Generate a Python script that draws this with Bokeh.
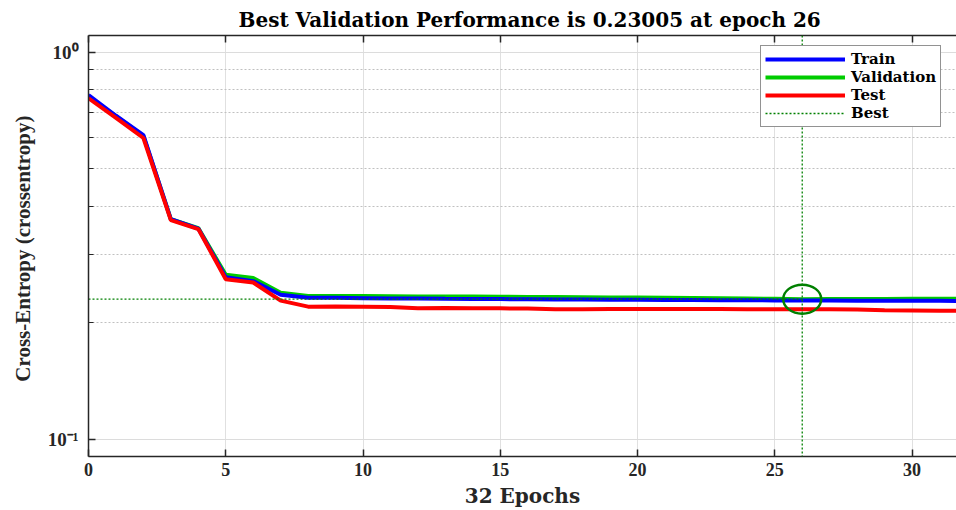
from bokeh.plotting import figure
from bokeh.models import (Range1d, LogAxis, LinearAxis, FixedTicker, Legend, LegendItem,
                          Span, Title, Grid, LogScale)
from bokeh.embed import file_html
from bokeh.resources import INLINE

epochs = list(range(0, 33))
train = [0.775, 0.685, 0.610, 0.370, 0.350, 0.262, 0.256, 0.236, 0.2320, 0.2318,
         0.2314, 0.2310, 0.2308, 0.2305, 0.2303, 0.2301, 0.2299, 0.2297, 0.2295, 0.2293,
         0.2291, 0.2289, 0.2288, 0.2286, 0.2285, 0.2283, 0.2282, 0.2281, 0.2280, 0.2279,
         0.2278, 0.2277, 0.2276]
validation = [0.768, 0.683, 0.607, 0.370, 0.351, 0.266, 0.261, 0.239, 0.2345, 0.2344,
              0.2343, 0.2341, 0.2338, 0.2337, 0.2336, 0.2334, 0.2331, 0.2329, 0.2327, 0.2324,
              0.2322, 0.2319, 0.2316, 0.2313, 0.2309, 0.2305, 0.23005, 0.2302, 0.2303, 0.2303,
              0.2304, 0.2304, 0.2305]
test = [0.760, 0.676, 0.600, 0.368, 0.349, 0.259, 0.254, 0.228, 0.2200, 0.2201,
        0.2198, 0.2194, 0.2180, 0.2181, 0.2180, 0.2178, 0.2175, 0.2165, 0.2166, 0.2168,
        0.2170, 0.2170, 0.2169, 0.2168, 0.2167, 0.2166, 0.2165, 0.2165, 0.2164, 0.2152,
        0.2150, 0.2148, 0.2147]
best_epoch = 26
best_perf = 0.23005
x_ticks = [0, 5, 10, 15, 20, 25, 30]
y_ticks = [0.1, 1.0]
y_minor = [0.2, 0.3, 0.4, 0.5, 0.6, 0.7, 0.8, 0.9]
y_labels = {0.1: "10⁻¹", 1.0: "10⁰", 1: "10⁰"}

FONT = "Liberation Serif"
WFONT = "DejaVu Serif"
GREEN = "#00CC00"
DARK_GREEN = "#008000"
AX = "#262626"

p = figure(width=956, height=510, output_backend="svg", toolbar_location=None,
           y_axis_type=None, x_axis_type=None,
           x_range=Range1d(0, 31.62), y_range=Range1d(0.0902, 1.104),
           min_border_left=88, min_border_right=0, min_border_top=35, min_border_bottom=53)
p.y_scale = LogScale()
p.outline_line_color = None
p.background_fill_color = "white"

xt = FixedTicker(ticks=x_ticks)
yt = FixedTicker(ticks=y_ticks, minor_ticks=y_minor)

xaxis = LinearAxis(ticker=xt, axis_label="32 Epochs")
xaxis.major_tick_in = 7
xaxis.major_tick_out = 0
xaxis.minor_tick_line_color = None
xaxis.major_label_standoff = 6
xaxis.axis_label_standoff = 5
xaxis.major_label_text_font = FONT
xaxis.major_label_text_font_style = "bold"
xaxis.major_label_text_font_size = "18px"
xaxis.major_label_text_color = AX
xaxis.axis_label_text_font = WFONT
xaxis.axis_label_text_font_style = "bold"
xaxis.axis_label_text_font_size = "20px"
xaxis.axis_label_text_color = AX
xaxis.axis_line_color = AX
xaxis.axis_line_width = 1.5
xaxis.major_tick_line_color = AX
xaxis.major_tick_line_width = 1.5
p.add_layout(xaxis, "below")

topaxis = LinearAxis(ticker=xt)
topaxis.major_label_overrides = {t: "" for t in x_ticks}
topaxis.major_tick_in = 7
topaxis.major_tick_out = 0
topaxis.minor_tick_line_color = None
topaxis.major_label_standoff = 0
topaxis.axis_line_color = AX
topaxis.axis_line_width = 1.5
topaxis.major_tick_line_color = AX
topaxis.major_tick_line_width = 1.5
p.add_layout(topaxis, "above")

yaxis = LogAxis(ticker=yt, axis_label="Cross-Entropy  (crossentropy)")
yaxis.major_label_overrides = y_labels
yaxis.major_tick_in = 7
yaxis.major_tick_out = 0
yaxis.minor_tick_in = 5
yaxis.minor_tick_out = 0
yaxis.major_label_standoff = 10
yaxis.axis_label_standoff = 10
yaxis.major_label_text_font = FONT
yaxis.major_label_text_font_style = "bold"
yaxis.major_label_text_font_size = "19px"
yaxis.major_label_text_color = AX
yaxis.axis_label_text_font = FONT
yaxis.axis_label_text_font_style = "bold"
yaxis.axis_label_text_font_size = "21px"
yaxis.axis_label_text_color = AX
yaxis.axis_line_color = AX
yaxis.axis_line_width = 1.5
yaxis.major_tick_line_color = AX
yaxis.minor_tick_line_color = AX
yaxis.major_tick_line_width = 1.5
p.add_layout(yaxis, "left")

xgrid = Grid(dimension=0, ticker=xt, grid_line_color="#E0E0E0", grid_line_width=1)
ygrid = Grid(dimension=1, ticker=yt, grid_line_color="#DCDCDC", grid_line_width=1,
             minor_grid_line_color="#C0C0C0", minor_grid_line_dash="2 2",
             minor_grid_line_width=1)
p.add_layout(xgrid)
p.add_layout(ygrid)

t = Title(text="Best Validation Performance is 0.23005 at epoch 26", align="left",
          text_font=WFONT, text_font_style="bold", text_font_size="20px",
          text_color="#000000", offset=150, standoff=7)
p.add_layout(t, "above")

r_val = p.line(epochs, validation, line_color=GREEN, line_width=4)
r_train = p.line(epochs, train, line_color="#0000FF", line_width=4)
r_test = p.line(epochs, test, line_color="#FF0000", line_width=4)

r_best = p.line([0, best_epoch], [best_perf, best_perf], line_color=DARK_GREEN,
                line_width=1.3, line_dash="2 2")
p.add_layout(Span(location=best_epoch, dimension="height", line_color=DARK_GREEN,
                  line_width=1.3, line_dash="2 2"))
p.ellipse(x=[best_epoch], y=[best_perf], width=38, height=29, width_units="screen",
          height_units="screen", fill_color=None, line_color=DARK_GREEN, line_width=2.5)

legend = Legend(items=[LegendItem(label="Train", renderers=[r_train]),
                       LegendItem(label="Validation", renderers=[r_val]),
                       LegendItem(label="Test", renderers=[r_test]),
                       LegendItem(label="Best", renderers=[r_best])],
                location=(672, 329))
legend.label_text_font = WFONT
legend.label_text_font_style = "bold"
legend.label_text_font_size = "15px"
legend.label_text_line_height = 1.0
legend.label_text_color = "#000000"
legend.glyph_width = 80
legend.glyph_height = 14
legend.label_height = 14
legend.label_standoff = 6
legend.spacing = -3
legend.padding = 4
legend.margin = 0
legend.border_line_color = AX
legend.border_line_width = 1.5
legend.background_fill_color = "white"
legend.background_fill_alpha = 1
p.add_layout(legend, "center")

open("out.html", "w").write(file_html(p, INLINE))
